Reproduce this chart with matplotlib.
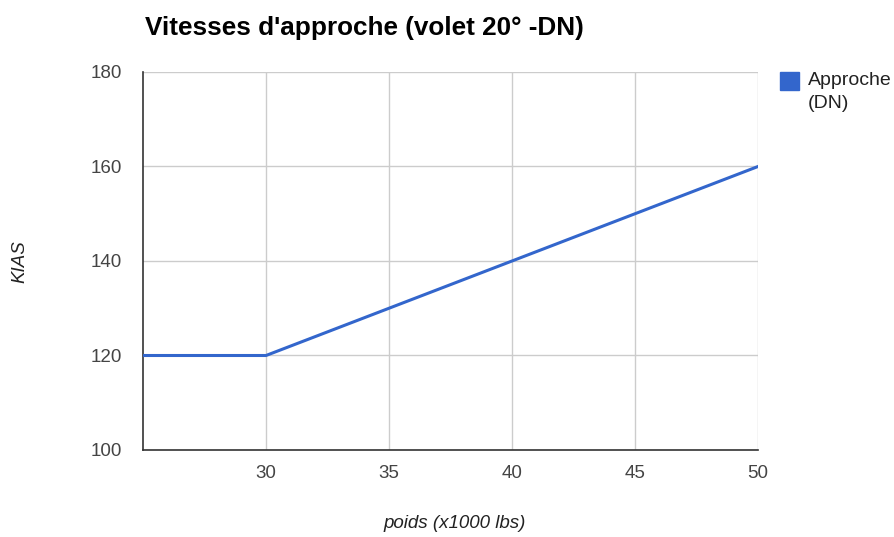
import matplotlib
matplotlib.use('Agg')
import matplotlib.pyplot as plt

# weight (x1000 lbs) vs approach speed
poids = [25, 30, 35, 40, 45, 50]
kias = [120, 120, 130, 140, 150, 160]
x_ticks = [30, 35, 40, 45, 50]
y_ticks = [100, 120, 140, 160, 180]

plt.rcParams['font.family'] = ['Liberation Sans', 'DejaVu Sans']

W, H = 894, 537
fig = plt.figure(figsize=(W / 100, H / 100), dpi=100)
ax = fig.add_axes([143 / W, 1 - 450 / H, (758 - 143) / W, (450 - 72) / H])

ax.plot(poids, kias, color='#3366cc', linewidth=2.2, zorder=3)

ax.set_xlim(25, 50)
ax.set_ylim(100, 180)
ax.set_xticks(x_ticks)
ax.set_yticks(y_ticks)
ax.grid(True, color='#cccccc', linewidth=1)
ax.set_axisbelow(True)
for s in ['top', 'right']:
    ax.spines[s].set_visible(False)
for s in ['left', 'bottom']:
    ax.spines[s].set_color('#333333')
    ax.spines[s].set_linewidth(1.2)
ax.tick_params(length=0, labelsize=13.5, colors='#444444')
ax.tick_params(axis='y', pad=15)
ax.tick_params(axis='x', pad=11)

# axis titles placed in pixels
fig.text(455 / W, 1 - 523 / H, 'poids (x1000 lbs)', fontsize=13.5, style='italic',
         color='#222222', ha='center', va='center')
fig.text(20 / W, 1 - 262 / H, 'KIAS', fontsize=13.5, style='italic', color='#222222',
         ha='center', va='center', rotation=90)

fig.text(145 / W, 1 - 28 / H, "Vitesses d'approche (volet 20° -DN)",
         fontsize=18.8, fontweight='bold', color='#000000', va='center', ha='left')

# legend as a square marker + text
fig.patches.append(plt.Rectangle((780 / W, 1 - 90 / H), 19 / W, 18 / H,
                                 transform=fig.transFigure, color='#3366cc', figure=fig))
fig.text(808 / W, 1 - 92 / H, 'Approche\n(DN)', fontsize=14, color='#222222',
         va='center', ha='left', linespacing=1.45)

fig.savefig('out.png', dpi=100)
